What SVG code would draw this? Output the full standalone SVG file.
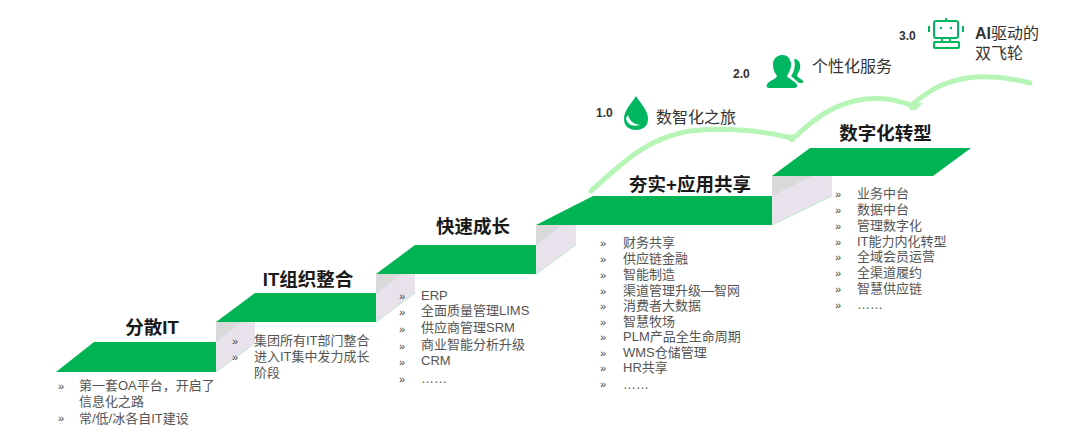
<svg xmlns="http://www.w3.org/2000/svg" width="1080" height="442" viewBox="0 0 1080 442">
<style>
text{font-family:"Liberation Sans","Noto Sans CJK SC",sans-serif}
.g{fill:#00b454}
.s1{fill:#d9d9da}
.s2{fill:#e8e2ec}
.e{fill:none;stroke:#bfe8d0;stroke-width:1}
.t{font-size:18.5px;font-weight:700;fill:#1a1a1a;text-anchor:middle}
.b{font-size:13px;fill:#555}
.m{font-size:11px;fill:#444}
.v{font-size:12px;font-weight:700;fill:#333}
.h{font-size:16px;fill:#333}
.c{fill:none;stroke:#b6f5b6;stroke-width:5;stroke-linecap:round}
.i{fill:none;stroke:#00b761;stroke-width:2}
.f{fill:#00b761}
</style>
<rect width="1080" height="442" fill="#fff"/>
<g id="connectors">
<path class="c" d="M591 191C625 160 650 137 690 131C720 127 760 130 792 138"/>
<path class="c" d="M796 136C815 118 835 103 865 99C885 97 895 100 911 105"/>
<path class="c" d="M914 103C930 90 945 80 975 77C995 76 1015 79 1030 83"/>
<path style="fill:#b6f5b6" d="M787 135L797 134L794 142L790 142Z"/>
<path style="fill:#b6f5b6" d="M906 103L923 103L916 110L910 110Z"/>
</g>
<g id="step1">
<polygon class="g" points="56,372 94,342 216,342 216,372"/>
<text class="t" x="152" y="334">分散IT</text>
<g class="m"><text x="58" y="390">»</text><text x="58" y="422">»</text></g>
<g class="b"><text x="79" y="390">第一套OA平台，开启了</text><text x="79" y="406">信息化之路</text><text x="79" y="423">常/低/冰各自IT建设</text></g>
</g>
<g id="step2">
<polygon class="s2" points="216,322 255,322 255,343 216,372"/>
<polygon class="s1" points="216,322 242,322 216,342"/>
<polyline class="e" points="216,372 255,343"/>
<polygon class="g" points="216,322 255,293 376,293 376,322"/>
<text class="t" x="308" y="286">IT组织整合</text>
<g class="m"><text x="232" y="345">»</text><text x="232" y="361">»</text></g>
<g class="b"><text x="254" y="345">集团所有IT部门整合</text><text x="254" y="361">进入IT集中发力成长</text><text x="254" y="377">阶段</text></g>
</g>
<g id="step3">
<polygon class="s2" points="376,274 415,274 415,293 376,322"/>
<polygon class="s1" points="376,274 402,274 376,294"/>
<polyline class="e" points="376,322 415,293"/>
<polygon class="g" points="376,274 415,245 536,245 536,274"/>
<text class="t" x="473" y="233">快速成长</text>
<g class="m"><text x="399" y="300">»</text><text x="399" y="316">»</text><text x="399" y="333">»</text><text x="399" y="350">»</text><text x="399" y="366">»</text><text x="399" y="383">»</text></g>
<g class="b"><text x="421" y="300">ERP</text><text x="421" y="315">全面质量管理LIMS</text><text x="421" y="332">供应商管理SRM</text><text x="421" y="349">商业智能分析升级</text><text x="421" y="365">CRM</text><text x="421" y="383">……</text></g>
</g>
<g id="step4">
<polygon class="s2" points="536,225 576,225 576,245 536,274"/>
<polygon class="s1" points="536,225 562,225 536,245"/>
<polyline class="e" points="536,274 576,245"/>
<polygon class="g" points="536,225 593,196 772,196 772,225"/>
<text class="t" x="690" y="191">夯实+应用共享</text>
<g class="m"><text x="600" y="247">»</text><text x="600" y="263">»</text><text x="600" y="279">»</text><text x="600" y="295">»</text><text x="600" y="310">»</text><text x="600" y="326">»</text><text x="600" y="341">»</text><text x="600" y="357">»</text><text x="600" y="372">»</text><text x="600" y="388">»</text></g>
<g class="b"><text x="623" y="247">财务共享</text><text x="623" y="263">供应链金融</text><text x="623" y="279">智能制造</text><text x="623" y="295">渠道管理升级—智网</text><text x="623" y="310">消费者大数据</text><text x="623" y="326">智慧牧场</text><text x="623" y="341">PLM产品全生命周期</text><text x="623" y="357">WMS仓储管理</text><text x="623" y="372">HR共享</text><text x="623" y="389">……</text></g>
</g>
<g id="step5">
<polygon class="s2" points="772,176 832,176 832,196 772,225"/>
<polygon class="s1" points="772,176 812,176 772,196"/>
<polyline class="e" points="772,225 832,196"/>
<polygon class="g" points="772,176 810,148 971,148 933,176"/>
<text class="t" x="885.5" y="140">数字化转型</text>
<g class="m"><text x="835" y="198">»</text><text x="835" y="214">»</text><text x="835" y="230">»</text><text x="835" y="246">»</text><text x="835" y="261">»</text><text x="835" y="277">»</text><text x="835" y="293">»</text><text x="835" y="309">»</text></g>
<g class="b"><text x="857" y="198">业务中台</text><text x="857" y="214">数据中台</text><text x="857" y="230">管理数字化</text><text x="857" y="246">IT能力内化转型</text><text x="857" y="261">全域会员运营</text><text x="857" y="277">全渠道履约</text><text x="857" y="293">智慧供应链</text><text x="857" y="309">……</text></g>
</g>
<g id="stage1">
<text class="v" x="596" y="117">1.0</text>
<path class="f" d="M636 96C641 104 648 110 648 119C648 126 643 130 636 130C629 130 624 126 624 119C624 110 631 104 636 96Z"/>
<path d="M626 118C627 125 633 127 640 125C634 124 630 122 628 115Z" fill="#fff"/>
<text class="h" x="656" y="123">数智化之旅</text>
</g>
<g id="stage2">
<text class="v" x="733" y="78">2.0</text>
<path class="f" d="M781 55C788 54 792 60 791 67C790 71 788 74 787 76C788 79 796 81 797 85C798 87 796 88 794 88H769C766 88 766 85 768 83C771 80 776 79 777 76C775 73 773 70 773 65C773 59 776 56 781 55Z"/>
<path class="f" d="M794 59C799 59 801 64 800 69C799 72 797 74 797 76C798 78 802 79 803 81C804 83 802 83 799 83L791 76C794 72 796 66 794 59Z"/>
<text class="h" x="812" y="72">个性化服务</text>
</g>
<g id="stage3">
<text class="v" x="899" y="40">3.0</text>
<rect class="i" x="934" y="21" width="24" height="17" rx="2"/>
<path class="i" d="M946 18V21M942 38V42M950 38V42M929 26V32M963 26V32"/>
<rect class="i" x="934" y="42" width="25" height="6" rx="1"/>
<circle class="f" cx="941" cy="28" r="1.2"/><circle class="f" cx="951" cy="28" r="1.2"/>
<text class="h" x="975" y="39" style="font-weight:700">AI<tspan style="font-weight:400">驱动的</tspan></text>
<text class="h" x="975" y="59">双飞轮</text>
</g>
</svg>
